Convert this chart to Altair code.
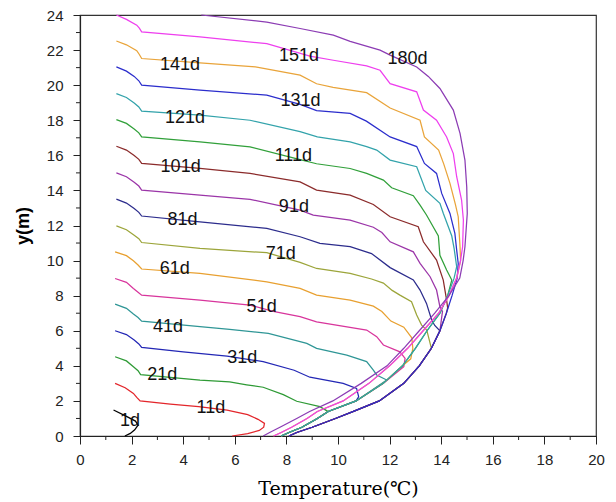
import altair as alt
import pandas as pd

# Curve labels (days) and their colours
DAYS = ["1d", "11d", "21d", "31d", "41d", "51d", "61d", "71d", "81d",
        "91d", "101d", "111d", "121d", "131d", "141d", "151d", "180d"]
COLORS = ["#000000", "#e3262b", "#2e9a35", "#2327b5", "#2f9696", "#d8359c",
          "#e8a030", "#9ca53a", "#2c2c8c", "#9b35a8", "#8b2b2b", "#31a03a",
          "#33a3ab", "#2b2dcc", "#e9a43a", "#ee3fee", "#8c3cb4"]

# Temperature profiles (temperature, height) for each day, upper part
d001 = [(1.30, 1.48), (1.80, 1.12), (2.15, 0.85), (2.25, 0.62), (2.12, 0.35),
        (1.95, 0.15), (1.74, 0.0)]
d011 = [(1.36, 3.00), (1.75, 2.75), (2.07, 2.43), (2.20, 2.20), (2.33, 2.00),
        (3.50, 1.82), (4.60, 1.67), (5.70, 1.48), (6.50, 1.22), (6.90, 0.95),
        (7.15, 0.72), (7.12, 0.50), (6.95, 0.32), (6.50, 0.13), (5.90, 0.0)]
d021 = [(1.36, 4.52), (1.80, 4.28), (2.07, 3.95), (2.25, 3.72), (2.35, 3.50),
        (4.65, 3.19), (5.80, 3.08), (6.46, 2.92), (7.10, 2.78), (7.88, 2.36),
        (8.40, 1.98), (9.30, 1.67), (9.62, 1.39)]
d031 = [(1.36, 6.00), (1.80, 5.78), (2.10, 5.47), (2.28, 5.25), (2.39, 5.05),
        (4.00, 4.80), (5.70, 4.55), (7.10, 4.24), (8.30, 3.75), (8.91, 3.35),
        (10.20, 3.00), (10.72, 2.71), (10.80, 2.24)]
d041 = [(1.36, 7.52), (1.80, 7.28), (2.07, 6.95), (2.25, 6.75), (2.39, 6.55),
        (4.65, 6.23), (5.80, 6.08), (7.30, 5.85), (8.79, 5.28), (9.17, 5.00),
        (10.34, 4.61), (11.11, 4.24), (11.37, 3.76), (11.50, 3.48), (11.89, 3.19)]
d051 = [(1.36, 8.98), (1.80, 8.76), (2.07, 8.41), (2.25, 8.20), (2.39, 8.03),
        (4.65, 7.75), (6.59, 7.46), (7.49, 7.10), (8.53, 6.80), (9.17, 6.51),
        (11.11, 6.04), (11.50, 5.66), (11.76, 5.19), (12.40, 4.80), (12.60, 4.42),
        (12.55, 3.95)]
d061 = [(1.36, 10.50), (1.80, 10.28), (2.07, 9.99), (2.25, 9.75), (2.39, 9.52),
        (4.65, 9.27), (7.24, 8.79), (8.53, 8.41), (9.17, 8.03), (10.47, 7.75),
        (11.37, 7.40), (11.70, 7.10), (12.05, 6.55), (12.55, 6.20), (12.86, 5.60),
        (12.90, 5.00), (12.82, 4.40)]
d071 = [(1.41, 11.98), (1.80, 11.76), (2.10, 11.45), (2.28, 11.25), (2.39, 11.03),
        (4.65, 10.69), (7.24, 10.45), (8.53, 9.90), (9.17, 9.55), (10.47, 9.27),
        (11.30, 8.95), (11.76, 8.72), (12.10, 8.30), (12.40, 8.03), (12.85, 7.65),
        (13.05, 6.90), (13.24, 6.32), (13.44, 6.04)]
d081 = [(1.41, 13.50), (1.80, 13.28), (2.10, 12.97), (2.28, 12.75), (2.39, 12.54),
        (4.65, 12.21), (7.24, 11.83), (8.53, 11.36), (9.30, 10.98), (10.47, 10.79),
        (11.30, 10.40), (12.02, 9.60), (12.92, 8.90), (13.18, 8.32), (13.43, 7.56),
        (13.63, 6.61), (13.75, 6.30)]
d091 = [(1.41, 15.00), (1.80, 14.78), (2.10, 14.47), (2.28, 14.25), (2.39, 14.02),
        (4.65, 13.73), (6.59, 13.49), (8.53, 12.88), (9.04, 12.59), (10.47, 12.31),
        (11.37, 11.90), (11.70, 11.60), (12.02, 11.07), (12.92, 10.50), (13.18, 9.84),
        (13.57, 9.08), (13.82, 8.32), (13.95, 7.37), (14.05, 7.10)]
d101 = [(1.41, 16.52), (1.80, 16.30), (2.10, 15.99), (2.28, 15.77), (2.39, 15.54),
        (4.65, 15.25), (6.59, 14.97), (8.53, 14.49), (9.17, 14.02), (10.47, 13.73),
        (11.37, 13.20), (12.02, 12.50), (13.11, 11.93), (13.31, 11.07), (13.82, 10.03),
        (14.08, 8.89), (14.21, 7.75), (14.25, 7.30)]
d111 = [(1.41, 18.04), (1.80, 17.82), (2.10, 17.50), (2.28, 17.28), (2.39, 17.05),
        (4.65, 16.77), (6.59, 16.48), (8.53, 15.75), (9.17, 15.52), (10.47, 15.25),
        (11.11, 14.97), (11.76, 14.59), (12.08, 14.15), (12.92, 13.70), (13.18, 13.16),
        (13.43, 12.60), (13.89, 11.40), (13.95, 10.30), (14.21, 9.46), (14.41, 8.89)]
d121 = [(1.41, 19.52), (1.80, 19.30), (2.10, 18.98), (2.28, 18.76), (2.39, 18.52),
        (4.65, 18.29), (6.59, 18.00), (8.53, 17.35), (9.20, 17.05), (10.47, 16.77),
        (11.11, 16.50), (11.50, 16.30), (12.02, 15.73), (13.05, 15.35), (13.40, 14.00),
        (13.95, 13.26), (14.08, 12.70), (14.41, 11.40), (14.50, 10.70), (14.60, 9.65)]
d131 = [(1.41, 21.04), (1.80, 20.80), (2.10, 20.50), (2.28, 20.25), (2.39, 20.00),
        (4.65, 19.72), (7.24, 19.43), (8.53, 18.90), (9.17, 18.55), (10.47, 18.39),
        (11.10, 17.95), (12.02, 17.05), (13.05, 16.50), (13.35, 15.54), (13.82, 14.97),
        (14.02, 13.83), (14.34, 12.69), (14.53, 11.55), (14.60, 10.60), (14.66, 9.84)]
d141 = [(1.41, 22.52), (1.80, 22.30), (2.20, 21.97), (2.30, 21.75), (2.39, 21.52),
        (4.65, 21.27), (6.80, 21.04), (8.53, 20.57), (9.17, 20.08), (9.81, 19.87),
        (11.11, 19.57), (12.02, 18.70), (13.18, 18.00), (13.35, 17.05), (13.90, 16.30),
        (14.10, 15.50), (14.34, 14.40), (14.55, 13.20), (14.66, 12.50), (14.73, 10.79)]
d151 = [(1.41, 24.00), (1.80, 23.75), (2.20, 23.42), (2.30, 23.25), (2.39, 23.04),
        (4.65, 22.75), (7.24, 22.37), (8.91, 21.65), (9.82, 21.42), (11.11, 21.10),
        (11.63, 20.85), (12.02, 20.09), (13.05, 19.62), (13.31, 18.58), (13.82, 18.00),
        (14.21, 17.05), (14.47, 16.10), (14.60, 14.78), (14.79, 13.45), (14.86, 12.31),
        (14.83, 10.79)]
d180 = [(4.70, 24.00), (7.24, 23.60), (8.53, 23.23), (9.82, 22.85), (10.47, 22.50),
        (11.63, 22.00), (12.02, 21.71), (13.05, 21.04), (13.50, 20.50), (13.95, 19.81),
        (14.47, 18.58), (14.73, 17.25), (14.92, 15.73), (14.99, 14.20), (15.01, 12.68),
        (14.92, 10.79)]

# Shared lower bundle near the ground surface, as four neighbouring strands
LANE_R = [(14.78, 10), (14.62, 9), (14.42, 8), (14.20, 7), (13.95, 6), (13.62, 5),
          (13.15, 4), (12.55, 3), (11.60, 2), (10.60, 1.4), (9.90, 1.0), (9.00, 0.5),
          (8.40, 0.2), (8.10, 0)]
LANE_M = [(14.70, 10), (14.50, 9), (14.25, 8), (13.95, 7), (13.45, 6), (13.00, 5),
          (12.50, 4), (11.75, 3), (10.70, 2), (9.62, 1.4), (9.20, 1.0), (8.60, 0.5),
          (8.10, 0.2), (7.80, 0)]
LANE_Q = [(14.75, 10), (14.60, 9), (14.30, 8), (13.90, 7), (13.30, 6), (12.70, 5),
          (12.00, 4), (11.20, 3), (10.20, 2), (9.20, 1.4), (8.80, 1.0), (8.20, 0.5),
          (7.80, 0.2), (7.50, 0)]
LANE_P = [(14.85, 10), (14.72, 9), (14.30, 8), (13.75, 7), (13.15, 6), (12.55, 5),
          (11.90, 4), (10.90, 3), (9.80, 2), (8.90, 1.4), (8.40, 1.0), (7.75, 0.5),
          (7.35, 0.2), (7.10, 0)]

PROFILES = [d001, d011, d021, d031, d041, d051, d061, d071, d081,
            d091, d101, d111, d121, d131, d141, d151, d180]
LANES = [None, None, LANE_M, LANE_M, LANE_M, LANE_M, LANE_M, LANE_R, LANE_R,
         LANE_R, LANE_R, LANE_M, LANE_M, LANE_R, LANE_Q, LANE_Q, LANE_P]

# Curve label positions
LABEL_X = [1.94, 5.07, 3.19, 6.29, 3.41, 7.04, 3.67, 7.78, 3.97,
           8.29, 3.90, 8.27, 4.07, 8.55, 3.88, 8.49, 12.69]
LABEL_Y = [0.85, 1.61, 3.46, 4.44, 6.19, 7.35, 9.50, 10.37, 12.31,
           13.03, 15.33, 15.97, 18.12, 19.07, 21.14, 21.67, 21.48]

X_MAJOR = list(range(0, 21, 2))
Y_MAJOR = list(range(0, 25, 2))
X_MINOR = list(range(1, 20, 2))
Y_MINOR = list(range(1, 24, 2))

rows = []
for day, pts, lane in zip(DAYS, PROFILES, LANES):
    path = list(pts)
    if lane is not None:
        y_join = pts[-1][1]
        path += [p for p in lane if p[1] < y_join - 0.2]
    for i, (x, y) in enumerate(path):
        rows.append({"day": day, "x": x, "y": y, "idx": i})
df = pd.DataFrame(rows)
labels = pd.DataFrame({"day": DAYS, "x": LABEL_X, "y": LABEL_Y})
x_minor_df = pd.DataFrame({"x": X_MINOR})
y_minor_df = pd.DataFrame({"y": Y_MINOR})

x_scale = alt.Scale(domain=[0, 20], nice=False, zero=False)
y_scale = alt.Scale(domain=[0, 24], nice=False, zero=False)

x_axis = alt.Axis(values=X_MAJOR, title="Temperature(℃)", format="d",
                  titleFont="DejaVu Serif", titleFontSize=19, titleFontWeight="normal",
                  titleColor="#000", titlePadding=12, labelFont="Liberation Sans",
                  labelFontSize=15, labelColor="#222", labelPadding=8,
                  tickSize=8, tickColor="#222", domainColor="#222", domainWidth=1.2,
                  grid=False, labelFlush=False)
y_axis = alt.Axis(values=Y_MAJOR, title="y(m)", format="d",
                  titleFont="Liberation Sans", titleFontSize=18, titleFontWeight="bold",
                  titleColor="#000", titlePadding=14, labelFont="Liberation Sans",
                  labelFontSize=15, labelColor="#222", labelPadding=10,
                  tickSize=7, tickColor="#222", domainColor="#222", domainWidth=1.2,
                  grid=False, labelFlush=False)

X = alt.X("x:Q", scale=x_scale, axis=x_axis)
Y = alt.Y("y:Q", scale=y_scale, axis=y_axis)

lines = alt.Chart(df).mark_line(strokeWidth=1.25).encode(
    x=X,
    y=Y,
    color=alt.Color("day:N", scale=alt.Scale(domain=DAYS, range=COLORS), legend=None),
    order=alt.Order("idx:Q"),
)

text = alt.Chart(labels).mark_text(
    font="Liberation Sans", fontSize=18, color="#111", align="center", baseline="middle"
).encode(x=X, y=Y, text="day:N")

x_minor = alt.Chart(x_minor_df).mark_rule(color="#222", strokeWidth=1).encode(
    x=X,
    y=alt.value(421),
    y2=alt.value(425),
)
y_minor = alt.Chart(y_minor_df).mark_rule(color="#222", strokeWidth=1).encode(
    y=Y,
    x=alt.value(0),
    x2=alt.value(-4),
)

chart = alt.layer(lines, text, x_minor, y_minor).properties(
    width=516,
    height=421,
    padding={"left": 80, "top": 15, "right": 20, "bottom": 66},
    autosize=alt.AutoSizeParams(type="none"),
    background="white",
).configure_view(stroke="#333", strokeWidth=1.2)

chart.save("out.html", embed_options={"renderer": "svg", "actions": False})
